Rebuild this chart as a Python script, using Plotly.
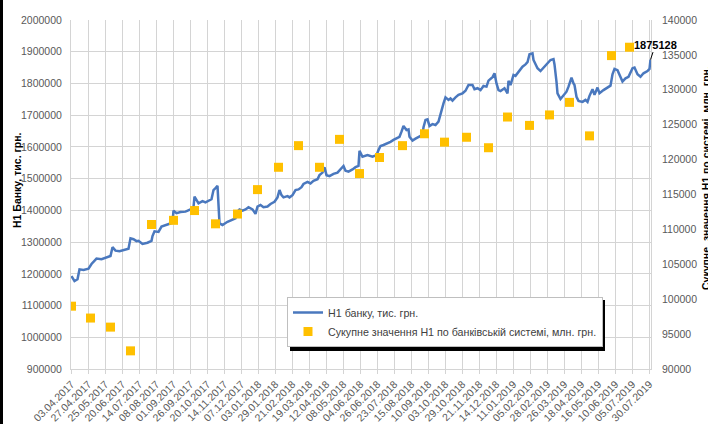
import plotly.graph_objects as go

# ---- data ----
tick_labels = ["03.04.2017", "27.04.2017", "25.05.2017", "20.06.2017", "14.07.2017", "08.08.2017",
               "01.09.2017", "26.09.2017", "20.10.2017", "14.11.2017", "07.12.2017", "03.01.2018",
               "29.01.2018", "21.02.2018", "19.03.2018", "12.04.2018", "08.05.2018", "04.06.2018",
               "26.06.2018", "23.07.2018", "15.08.2018", "10.09.2018", "03.10.2018", "29.10.2018",
               "21.11.2018", "14.12.2018", "11.01.2019", "05.02.2019", "28.02.2019", "26.03.2019",
               "18.04.2019", "16.05.2019", "10.06.2019", "05.07.2019", "30.07.2019"]
tick_step = 17  # business days between labels

# bank H1 (thousand UAH), position = business-day index
bank_idx = [0, 3, 6, 8, 12, 17, 20, 25, 30, 37, 39, 41, 44, 48, 54, 57, 59, 62, 65, 67, 71, 76, 80, 81,
            83, 87, 90, 94, 99, 101, 102, 105, 109, 114, 119, 122, 123, 127, 131, 134, 140, 142, 144, 146,
            148, 151, 156, 160, 164, 166, 168, 171, 174, 177, 181, 184, 186, 189, 192, 196, 199, 203, 206,
            208, 210, 212, 216, 218, 221, 224, 227, 230, 232, 236, 239, 242, 246, 248, 251, 253, 255, 258,
            262, 266, 269, 272, 274, 277, 281, 284, 287, 288, 291, 296, 301, 305, 307, 309, 312, 316, 319,
            322, 326, 328, 330, 332, 335, 337, 338, 341, 344, 348, 351, 352, 354, 356, 358, 361, 364, 367,
            369, 371, 372, 374, 377, 379, 381, 384, 387, 391, 394, 397, 401, 403, 406, 409, 412, 415, 417,
            421, 423, 425, 427, 429, 433, 436, 437, 439, 442, 444, 447, 451, 454, 456, 458, 461, 462, 466,
            469, 472, 476, 479, 482, 483, 485, 486, 489, 492, 495, 497, 500, 502, 503, 505, 507, 511, 514,
            516, 518, 521, 523, 526, 528, 532, 536, 539, 541, 543, 546, 548, 551, 554, 557, 561, 563, 566,
            569, 572, 576, 578, 579]
bank_h1 = [1193000, 1177000, 1183000, 1214000, 1212000, 1216000, 1231000, 1248000, 1246000, 1252000,
           1256000, 1284000, 1273000, 1271000, 1275000, 1279000, 1312000, 1309000, 1303000, 1304000,
           1294000, 1298000, 1304000, 1319000, 1334000, 1332000, 1349000, 1353000, 1359000, 1361000,
           1399000, 1391000, 1395000, 1396000, 1403000, 1410000, 1443000, 1422000, 1429000, 1425000,
           1435000, 1464000, 1470000, 1477000, 1359000, 1354000, 1364000, 1370000, 1375000, 1396000,
           1403000, 1399000, 1403000, 1410000, 1403000, 1389000, 1412000, 1417000, 1410000, 1412000,
           1420000, 1427000, 1441000, 1464000, 1448000, 1441000, 1445000, 1441000, 1448000, 1464000,
           1466000, 1473000, 1483000, 1490000, 1485000, 1493000, 1498000, 1511000, 1519000, 1536000,
           1511000, 1508000, 1515000, 1519000, 1529000, 1540000, 1525000, 1522000, 1529000, 1536000,
           1540000, 1588000, 1569000, 1574000, 1569000, 1574000, 1590000, 1603000, 1606000, 1611000,
           1616000, 1622000, 1627000, 1632000, 1648000, 1666000, 1653000, 1655000, 1632000, 1620000,
           1626000, 1632000, 1638000, 1662000, 1685000, 1687000, 1666000, 1672000, 1669000, 1680000,
           1706000, 1727000, 1737000, 1756000, 1748000, 1753000, 1746000, 1756000, 1764000, 1769000,
           1777000, 1795000, 1795000, 1782000, 1785000, 1779000, 1792000, 1790000, 1809000, 1820000,
           1832000, 1800000, 1779000, 1776000, 1785000, 1769000, 1808000, 1795000, 1827000, 1824000,
           1837000, 1853000, 1860000, 1867000, 1892000, 1895000, 1874000, 1848000, 1839000, 1850000,
           1864000, 1874000, 1877000, 1860000, 1805000, 1769000, 1751000, 1761000, 1774000, 1790000,
           1818000, 1800000, 1795000, 1758000, 1745000, 1742000, 1748000, 1742000, 1761000, 1782000,
           1764000, 1787000, 1769000, 1779000, 1787000, 1793000, 1829000, 1846000, 1842000, 1827000,
           1806000, 1816000, 1821000, 1848000, 1850000, 1829000, 1821000, 1832000, 1839000, 1846000,
           1875128]

# banking system H1 (million UAH), monthly
system_idx = [0, 19, 39, 59, 80, 102, 123, 144, 166, 186, 207, 227, 248, 268, 288, 308, 331, 353, 373,
              395, 417, 436, 458, 478, 498, 518, 540, 558]
system_h1 = [99000, 97300, 96000, 92600, 110700, 111300, 112700, 110800, 112200, 115700, 118900, 122000,
             118900, 122900, 118000, 120300, 122000, 123700, 122500, 123200, 121700, 126100, 124900, 126400,
             128200, 123400, 134900, 136100]

line_name = "Н1 банку, тис. грн."
marker_name = "Сукупне значення Н1 по банківській системі, млн. грн."
left_title = "Н1 Банку, тис. грн."
right_title = "Сукупне  значення Н1 по системі, млн. грн."
chart_title = "значенням Н1 по банківській системі"
last_label = "1875128"

# ---- figure ----
FONT = "Liberation Sans, Arial, sans-serif"
GRID = "#d4d4d4"
TXT = "#595959"

W, H = 708, 424
L, R, T, B = 71, 57, 20, 55
PW, PH = W - L - R, H - T - B

def px_x(p):
    return (p - L) / PW

def px_y(p):
    return (H - B - p) / PH

fig = go.Figure()
fig.add_trace(go.Scatter(x=bank_idx, y=bank_h1, mode="lines", name=line_name,
                         line=dict(color="#4a78be", width=2.5), legendgroup="a"))
fig.add_trace(go.Scatter(x=system_idx, y=system_h1, mode="markers", name=marker_name, yaxis="y2",
                         marker=dict(symbol="square", size=9, color="#FFC000"), legendgroup="b"))

tickvals = [i * tick_step for i in range(len(tick_labels))]

fig.update_layout(
    width=W, height=H,
    margin=dict(l=L, r=R, t=T, b=B, autoexpand=False),
    paper_bgcolor="white", plot_bgcolor="white",
    font=dict(family=FONT, size=10.5, color=TXT),
    showlegend=True,
    legend=dict(x=px_x(287), y=px_y(297), xanchor="left", yanchor="top",
                bgcolor="white", bordercolor="#bfbfbf", borderwidth=1,
                font=dict(size=10.7, color="#404040"), tracegroupgap=0,
                traceorder="grouped"),
    xaxis=dict(range=[-0.5, 579.5], tickmode="array", tickvals=tickvals, ticktext=tick_labels,
               tickangle=-45, showgrid=True, gridcolor=GRID, gridwidth=1, zeroline=False,
               ticks="outside", ticklen=4, tickcolor=GRID, showline=True, linecolor=GRID,
               automargin=False, tickfont=dict(size=10.5, color=TXT)),
    yaxis=dict(range=[900000, 2000000], dtick=100000, tickformat="d", showgrid=True, gridcolor=GRID,
               gridwidth=1, zeroline=False, showline=True, linecolor=GRID, mirror=True,
               automargin=False, ticklabelstandoff=6, tickfont=dict(size=10.5, color=TXT)),
    yaxis2=dict(range=[90000, 140000], dtick=5000, tickformat="d", overlaying="y", side="right",
                showgrid=False, zeroline=False, ticklabelstandoff=10, automargin=False,
                tickfont=dict(size=10.5, color=TXT)),
)

# legend shadow
fig.add_shape(type="rect", xref="paper", yref="paper",
              x0=px_x(290), x1=px_x(605), y0=px_y(351), y1=px_y(300),
              fillcolor="black", line=dict(width=0), layer="above")

annotations = [
    dict(text=f"<b>{left_title}</b>", xref="paper", yref="paper", x=px_x(17), y=px_y(180),
         xanchor="center", yanchor="middle",
         textangle=-90, showarrow=False, font=dict(size=10.5, color="#000000")),
    dict(text=f"<b>{right_title}</b>", xref="paper", yref="paper", x=px_x(706), y=px_y(178),
         xanchor="center", yanchor="middle",
         textangle=-90, showarrow=False, font=dict(size=10.5, color="#000000")),
    dict(text=chart_title, xref="paper", yref="paper", x=px_x(245), y=px_y(4),
         xanchor="center", yanchor="bottom", showarrow=False, font=dict(size=10, color="#404040")),
    dict(text=f"<b>{last_label}</b>", x=bank_idx[-1], y=bank_h1[-1], xref="x", yref="y",
         showarrow=True, arrowhead=0, arrowwidth=1, arrowcolor="#000000", ax=5, ay=-15,
         standoff=0, xanchor="center", yanchor="middle",
         font=dict(size=11, color="#000000")),
]
fig.update_layout(annotations=annotations)

# page tweaks: no body margin, and the black left frame edge of the original picture
post = (
    "document.body.style.margin='0';"
    "document.body.style.overflow='hidden';"
    "var f=document.createElement('div');"
    "f.style.cssText='position:fixed;left:0;top:0;width:3px;height:100%;background:#000;z-index:10;';"
    "document.body.appendChild(f);"
)
fig.write_html("out.html", config={"displayModeBar": False}, post_script=post)
